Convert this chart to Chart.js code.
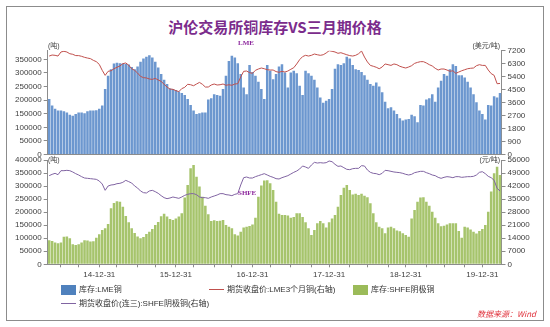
<!DOCTYPE html>
<html>
<head>
<meta charset="utf-8">
<script src="https://cdn.jsdelivr.net/npm/chart.js@4"></script>
<style>
  body { margin: 0; width: 550px; height: 327px; background: #fff; position: relative; overflow: hidden;
         font-family: "Liberation Sans", "Noto Sans CJK SC", sans-serif; }
  .frame { position: absolute; left: 6px; top: 6px; width: 536px; height: 313px; border: 1px solid #8c8c8c; }
  #title { position: absolute; left: 0; top: 17px; width: 550px; text-align: center;
           font: bold 15px "Noto Sans CJK SC", sans-serif; color: #7b2c8c; line-height: 20px; }
  canvas { position: absolute; left: 0; }
  .unit { position: absolute; font-size: 7px; color: #444; line-height: 8px; white-space: nowrap; }
  .tag { position: absolute; font: bold 7px "Liberation Serif", serif; color: #8e2a9e; line-height: 8px; }
  .lg { position: absolute; font-size: 8px; color: #333; line-height: 10px; white-space: nowrap; }
  .lg i { display: inline-block; vertical-align: middle; margin-right: 3px; }
  .box { width: 15px; height: 10px; }
  .ln { width: 15px; height: 1px; }
  #src { position: absolute; right: 14px; top: 308px; font: italic 8px "Noto Sans CJK SC", sans-serif; color: #e0303a; }
</style>
</head>
<body>
<div class="frame"></div>
<div id="title">沪伦交易所铜库存VS三月期价格</div>

<canvas id="topChart" width="550" height="125" style="top:40px"></canvas>
<canvas id="bottomChart" width="550" height="135" style="top:150px"></canvas>

<div class="unit" style="left:48px;top:42px">(吨)</div>
<div class="unit" style="right:50px;top:42px">(美元/吨)</div>
<div class="unit" style="left:48px;top:156px">(吨)</div>
<div class="unit" style="right:50px;top:156px">(元/吨)</div>
<div class="tag" style="left:238px;top:39px">LME</div>
<div class="tag" style="left:238px;top:189px">SHFE</div>

<div class="lg" style="left:61px;top:285px"><i class="box" style="background:#4f81bd"></i>库存:LME铜</div>
<div class="lg" style="left:209px;top:285px"><i class="ln" style="background:#c0504d"></i>期货收盘价:LME3个月铜(右轴)</div>
<div class="lg" style="left:353px;top:285px"><i class="box" style="background:#9bbb59"></i>库存:SHFE阴极铜</div>
<div class="lg" style="left:61px;top:299px"><i class="ln" style="background:#8064a2"></i>期货收盘价(连三):SHFE阴极铜(右轴)</div>
<div id="src">数据来源：Wind</div>

<script>
// fortnightly observations, first one on 2014-05-09
const firstDay = new Date(2014, 4, 9);
const stepDays = 14;

// LME copper stocks (tonnes)
const lmeStock = [
  204000, 180000, 168000, 162000, 162000, 159000, 155000, 146000, 143000, 149000,
  155000, 155000, 152000, 159000, 162000, 162000, 163000, 168000, 180000, 241000,
  290000, 314000, 335000, 338000, 336000, 335000, 333000, 331000, 322000, 314000,
  324000, 341000, 353000, 360000, 365000, 357000, 341000, 320000, 296000, 275000,
  259000, 243000, 241000, 237000, 232000, 226000, 219000, 204000, 182000, 162000,
  149000, 152000, 155000, 155000, 202000, 207000, 222000, 219000, 216000, 241000,
  290000, 344000, 363000, 357000, 336000, 296000, 247000, 222000, 329000, 304000,
  290000, 268000, 241000, 204000, 329000, 308000, 277000, 296000, 324000, 332000,
  302000, 247000, 302000, 308000, 299000, 253000, 219000, 308000, 299000, 290000,
  275000, 247000, 210000, 190000, 198000, 204000, 241000, 316000, 332000, 329000,
  336000, 360000, 353000, 329000, 314000, 311000, 304000, 292000, 275000, 259000,
  253000, 265000, 250000, 229000, 194000, 170000, 174000, 162000, 149000, 133000,
  125000, 129000, 131000, 146000, 141000, 119000, 182000, 180000, 202000, 207000,
  222000, 194000, 247000, 271000, 296000, 290000, 314000, 332000, 326000, 292000,
  292000, 283000, 268000, 247000, 222000, 192000, 162000, 149000, 129000, 182000,
  180000, 214000, 210000, 226000
];

// LME 3-month copper close (USD/t)
const lmePrice = [
  6830, 6900, 6880, 6830, 7110, 7160, 7110, 6990, 6950, 6860,
  6860, 6810, 6740, 6690, 6650, 6530, 6440, 6250, 5840, 5490,
  5770, 5810, 5950, 6050, 6140, 6300, 6350, 6190, 5950, 5840,
  5650, 5420, 5330, 5310, 5240, 5210, 5280, 5170, 5070, 4870,
  4680, 4540, 4520, 4430, 4360, 4570, 4660, 4870, 4840, 4770,
  4890, 5000, 4870, 4680, 4680, 4820, 4890, 4820, 4840, 4890,
  4800, 4840, 4800, 4890, 4910, 5380, 5770, 5790, 5680, 5630,
  5840, 5930, 6000, 5950, 5880, 5860, 5860, 5750, 5700, 5770,
  5720, 5790, 5910, 6020, 6280, 6580, 6790, 6880, 6830, 6880,
  6970, 6920, 6880, 6920, 7040, 7200, 7160, 7110, 7020, 7060,
  6990, 6920, 6860, 6830, 6880, 6990, 7180, 6760, 6420, 6180,
  6120, 6050, 5950, 6070, 6280, 6230, 6180, 6280, 6230, 6120,
  6050, 6000, 6070, 6160, 6320, 6390, 6440, 6440, 6350, 6230,
  6140, 5980, 5860, 5930, 5930, 5860, 5770, 5810, 5630, 5720,
  5810, 5880, 5950, 5980, 6000, 6160, 6230, 6180, 6180, 5860,
  5610, 5490, 4910, 4930
];

// SHFE cathode copper stocks (tonnes)
const shfeStock = [
  92000, 89000, 84000, 81000, 84000, 106000, 107000, 100000, 77000, 74000,
  77000, 84000, 92000, 91000, 87000, 88000, 102000, 115000, 132000, 138000,
  155000, 215000, 235000, 242000, 240000, 221000, 185000, 161000, 138000, 120000,
  107000, 100000, 105000, 116000, 125000, 135000, 151000, 162000, 184000, 194000,
  183000, 174000, 170000, 176000, 183000, 196000, 256000, 304000, 368000, 381000,
  336000, 298000, 259000, 225000, 192000, 166000, 169000, 166000, 167000, 170000,
  151000, 144000, 138000, 115000, 110000, 125000, 141000, 144000, 147000, 153000,
  179000, 259000, 302000, 321000, 322000, 311000, 285000, 240000, 194000, 189000,
  189000, 187000, 179000, 181000, 196000, 196000, 181000, 161000, 138000, 112000,
  132000, 157000, 166000, 157000, 141000, 161000, 176000, 189000, 221000, 266000,
  294000, 304000, 285000, 268000, 271000, 266000, 271000, 263000, 257000, 234000,
  196000, 161000, 144000, 138000, 119000, 141000, 144000, 138000, 130000, 127000,
  119000, 112000, 106000, 176000, 208000, 240000, 256000, 257000, 240000, 225000,
  202000, 179000, 157000, 146000, 148000, 153000, 157000, 157000, 157000, 128000,
  102000, 144000, 141000, 133000, 125000, 118000, 128000, 135000, 151000, 202000,
  279000, 349000, 374000, 342000
];

// SHFE cathode copper 3rd-month close (CNY/t)
const shfePrice = [
  47590, 48300, 48840, 48120, 50270, 50270, 50450, 50270, 49560, 48660,
  47950, 47050, 46330, 46160, 45980, 45800, 45620, 44730, 43120, 39720,
  42040, 42580, 42760, 43290, 43470, 44010, 45080, 44370, 43650, 42040,
  40970, 39360, 38460, 38280, 39360, 39720, 39000, 38110, 36850, 35780,
  35240, 35600, 36140, 35780, 35420, 36140, 37030, 37570, 37930, 37930,
  37390, 36140, 35780, 35780, 35420, 36140, 36670, 37210, 37930, 37930,
  37390, 37210, 36850, 37570, 37930, 42580, 46510, 46870, 46330, 46330,
  47050, 47590, 48120, 48660, 47950, 47230, 46690, 45980, 45800, 46510,
  47050, 47590, 48480, 49380, 50090, 51170, 52780, 52240, 51520, 53310,
  54740, 54380, 54560, 54380, 54560, 55460, 55100, 53670, 52600, 52780,
  51880, 50990, 50810, 51340, 51520, 51520, 52950, 52780, 50630, 49380,
  48840, 48660, 48120, 48840, 50450, 50270, 49910, 49560, 49380, 49200,
  48840, 48300, 47950, 48300, 49200, 49560, 49910, 49910, 49200, 48660,
  47950, 47590, 46690, 46160, 46690, 47050, 46870, 46510, 47050, 47050,
  46690, 46870, 47050, 47050, 47230, 47950, 49380, 49730, 48660, 47230,
  46510, 45080, 40790, 39360
];

// axis tick values
const lmeStockTicks = [0, 50000, 100000, 150000, 200000, 250000, 300000, 350000];
const lmePriceTicks = [0, 900, 1800, 2700, 3600, 4500, 5400, 6300, 7200];
const shfeStockTicks = [0, 50000, 100000, 150000, 200000, 250000, 300000, 350000, 400000];
const shfePriceTicks = [0, 7000, 14000, 21000, 28000, 35000, 42000, 49000, 56000];

// labelled ticks on the date axis (year ends)
const yearTicks = ['14-12-31', '15-12-31', '16-12-31', '17-12-31', '18-12-31', '19-12-31'];

const pad = n => String(n).padStart(2, '0');
const dates = lmeStock.map((_, i) => new Date(firstDay.getTime() + i * stepDays * 86400000));
const categories = dates.map(d => pad(d.getFullYear() % 100) + '-' + pad(d.getMonth() + 1) + '-' + pad(d.getDate()));

function nearestIndex(target) {
  let best = 0;
  dates.forEach((d, i) => {
    if (Math.abs(d - target) < Math.abs(dates[best] - target)) best = i;
  });
  return best;
}

// quarter-end tick marks, year ends get a label
const tickLabel = {};
const tickIndex = [];
for (let y = 2014; y <= 2020; y++) {
  [[2, 31], [5, 30], [8, 30], [11, 31]].forEach(([m, d]) => {
    const t = new Date(y, m, d);
    if (t < dates[0] || t > dates[dates.length - 1]) return;
    const idx = nearestIndex(t);
    tickIndex.push(idx);
    if (m === 11) tickLabel[idx] = yearTicks[y - 2014];
  });
}

const FONT = '"Liberation Sans", "Noto Sans CJK SC", sans-serif';
const AXIS = '#8c8c8c';
const TXT = '#404040';

function yAxis(position, max, tickValues, width) {
  return {
    position: position,
    min: 0,
    max: max,
    bounds: 'data',
    border: { color: AXIS },
    grid: { drawOnChartArea: false, tickLength: 4, color: AXIS },
    ticks: { font: { size: 8, family: FONT }, color: TXT, padding: 2, callback: v => String(v) },
    afterBuildTicks: s => { s.ticks = tickValues.map(v => ({ value: v })); },
    afterFit: s => { s.width = width; }
  };
}

function xAxis(showLabels, height) {
  return {
    type: 'category',
    offset: true,
    border: { color: AXIS },
    grid: { drawOnChartArea: false, offset: false, tickLength: 3, color: AXIS, drawTicks: showLabels },
    ticks: {
      display: showLabels, autoSkip: false, maxRotation: 0, padding: 3,
      font: { size: 8, family: FONT }, color: TXT,
      callback: v => tickLabel[v] || ''
    },
    afterBuildTicks: s => { s.ticks = tickIndex.map(v => ({ value: v })); },
    afterFit: s => { s.height = height; }
  };
}

function panel(canvasId, bars, barColor, line, lineColor, yLeft, yRight, showLabels, xHeight, padTop, padBottom) {
  return new Chart(document.getElementById(canvasId), {
    data: {
      labels: categories,
      datasets: [
        { type: 'line', data: line, yAxisID: 'yR', borderColor: lineColor, borderWidth: 1,
          pointRadius: 0, tension: 0, order: 0 },
        { type: 'bar', data: bars, yAxisID: 'yL', backgroundColor: barColor, borderWidth: 0,
          barPercentage: 0.86, categoryPercentage: 1, order: 1 }
      ]
    },
    options: {
      responsive: false,
      animation: false,
      layout: { padding: { top: padTop, bottom: padBottom, left: 0, right: 0 } },
      plugins: { legend: { display: false }, tooltip: { enabled: false } },
      scales: {
        x: xAxis(showLabels, xHeight),
        yL: yLeft,
        yR: yRight
      }
    }
  });
}

// LME: stocks on the left, USD price on the right
panel('topChart', lmeStock, '#6c97cf', lmePrice, '#c0504d',
  yAxis('left', 382000, lmeStockTicks, 47.7), yAxis('right', 7200, lmePriceTicks, 48.5), false, 0, 10.7, 10.5);

// SHFE: stocks on the left, CNY price on the right
panel('bottomChart', shfeStock, '#a6c46c', shfePrice, '#8064a2',
  yAxis('left', 400000, shfeStockTicks, 47.7), yAxis('right', 56000, shfePriceTicks, 48.5), true, 20.7, 10, 0);
</script>
</body>
</html>
